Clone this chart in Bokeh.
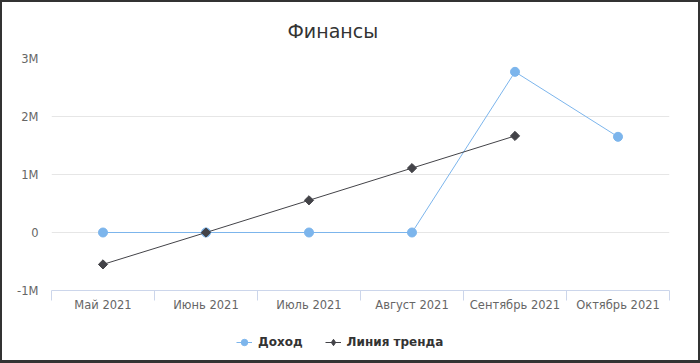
import numpy as np
from bokeh.plotting import figure
from bokeh.layouts import column
from bokeh.models import (ColumnDataSource, FixedTicker, Legend, LegendItem, Range1d)
from bokeh.embed import file_html
from bokeh.resources import INLINE

months = ["Май 2021", "Июнь 2021", "Июль 2021", "Август 2021", "Сентябрь 2021", "Октябрь 2021"]
income = [0, 0, 0, 0, 2770000, 1650000]
trend_months = ["Май 2021", "Июнь 2021", "Июль 2021", "Август 2021", "Сентябрь 2021"]
trend = [-550000, 0, 555000, 1110000, 1665000]
y_ticks = [-1000000, 0, 1000000, 2000000, 3000000]
y_labels = ["-1M", "0", "1M", "2M", "3M"]

FONT = "DejaVu Sans"
INC_COLOR = "#7cb5ec"
TR_COLOR = "#434348"

pos = {m: i + 0.5 for i, m in enumerate(months)}
src_inc = ColumnDataSource(dict(x=[pos[m] for m in months], y=income))
src_tr = ColumnDataSource(dict(x=[pos[m] for m in trend_months], y=trend))

p = figure(width=696, height=322, output_backend="svg", toolbar_location=None,
           x_range=Range1d(0, len(months)), y_range=Range1d(y_ticks[0], y_ticks[-1]),
           min_border_left=49, min_border_right=29, min_border_top=56, min_border_bottom=34)
p.outline_line_color = None
p.background_fill_color = "white"
p.border_fill_color = "white"

p.title.text = "Финансы"
p.title.align = "left"
p.title.offset = 236
p.title.text_font = FONT
p.title.text_font_size = "19px"
p.title.text_font_style = "normal"
p.title.text_color = "#333333"
p.title.vertical_align = "top"
p.title.standoff = 30

# x axis
p.xaxis.ticker = FixedTicker(ticks=[pos[m] for m in months],
                             minor_ticks=list(range(len(months) + 1)))
p.xaxis.major_label_overrides = {pos[m]: m for m in months}
p.xaxis.major_tick_line_color = None
p.xaxis.major_tick_out = 0
p.xaxis.major_tick_in = 0
p.xaxis.minor_tick_line_color = "#ccd6eb"
p.xaxis.minor_tick_in = 0
p.xaxis.minor_tick_out = 10
p.xaxis.axis_line_color = "#ccd6eb"
p.xaxis.major_label_text_font = FONT
p.xaxis.major_label_text_font_size = "11.5px"
p.xaxis.major_label_text_color = "#666666"
p.xaxis.major_label_standoff = -3
p.xgrid.grid_line_color = None

# y axis
p.yaxis.ticker = FixedTicker(ticks=y_ticks)
p.yaxis.major_label_overrides = {t: l for t, l in zip(y_ticks, y_labels)}
p.yaxis.axis_line_color = None
p.yaxis.major_tick_line_color = None
p.yaxis.major_tick_out = 0
p.yaxis.major_tick_in = 0
p.yaxis.minor_tick_line_color = None
p.yaxis.minor_tick_out = 0
p.yaxis.minor_tick_in = 0
p.yaxis.major_label_text_font = FONT
p.yaxis.major_label_text_font_size = "11.5px"
p.yaxis.major_label_text_color = "#666666"
p.yaxis.major_label_standoff = 13
p.ygrid.grid_line_color = "#e6e6e6"
p.ygrid.ticker = FixedTicker(ticks=y_ticks)

p.line("x", "y", source=src_inc, line_color=INC_COLOR, line_width=1)
p.scatter("x", "y", source=src_inc, marker="circle", size=9,
          fill_color=INC_COLOR, line_color=INC_COLOR)
p.line("x", "y", source=src_tr, line_color=TR_COLOR, line_width=1)
p.scatter("x", "y", source=src_tr, marker="square", angle=np.pi / 4, size=6.5,
          fill_color=TR_COLOR, line_color=TR_COLOR)

# legend strip below the chart (its renderers use the same data, kept out of view)
pl = figure(width=696, height=36, output_backend="svg", toolbar_location=None,
            x_axis_type=None, y_axis_type=None,
            x_range=Range1d(100, 101), y_range=Range1d(1e9, 1e9 + 1),
            min_border_left=0, min_border_right=0, min_border_top=0, min_border_bottom=0)
pl.grid.visible = False
pl.outline_line_color = None
pl.border_fill_color = "white"
ll1 = pl.line("x", "y", source=src_inc, line_color=INC_COLOR, line_width=1)
lm1 = pl.scatter("x", "y", source=src_inc, marker="circle", size=9,
                 fill_color=INC_COLOR, line_color=INC_COLOR)
ll2 = pl.line("x", "y", source=src_tr, line_color=TR_COLOR, line_width=1)
lm2 = pl.scatter("x", "y", source=src_tr, marker="diamond", size=10,
                 fill_color=TR_COLOR, line_color=TR_COLOR)
legend = Legend(items=[LegendItem(label="Доход", renderers=[ll1, lm1]),
                       LegendItem(label="Линия тренда", renderers=[ll2, lm2])],
                orientation="horizontal", location=(185, 10),
                label_text_font=FONT, label_text_font_size="12px",
                label_text_font_style="bold", label_text_color="#333333",
                border_line_color=None, background_fill_alpha=0,
                glyph_width=16, glyph_height=16, label_standoff=6,
                spacing=22, margin=0, padding=2)
pl.add_layout(legend)

layout = column(p, pl, spacing=0,
                styles={"border-style": "solid", "border-color": "#333333",
                        "border-width": "2px 2px 3px 2px"})
open("out.html", "w").write(file_html(layout, INLINE))
